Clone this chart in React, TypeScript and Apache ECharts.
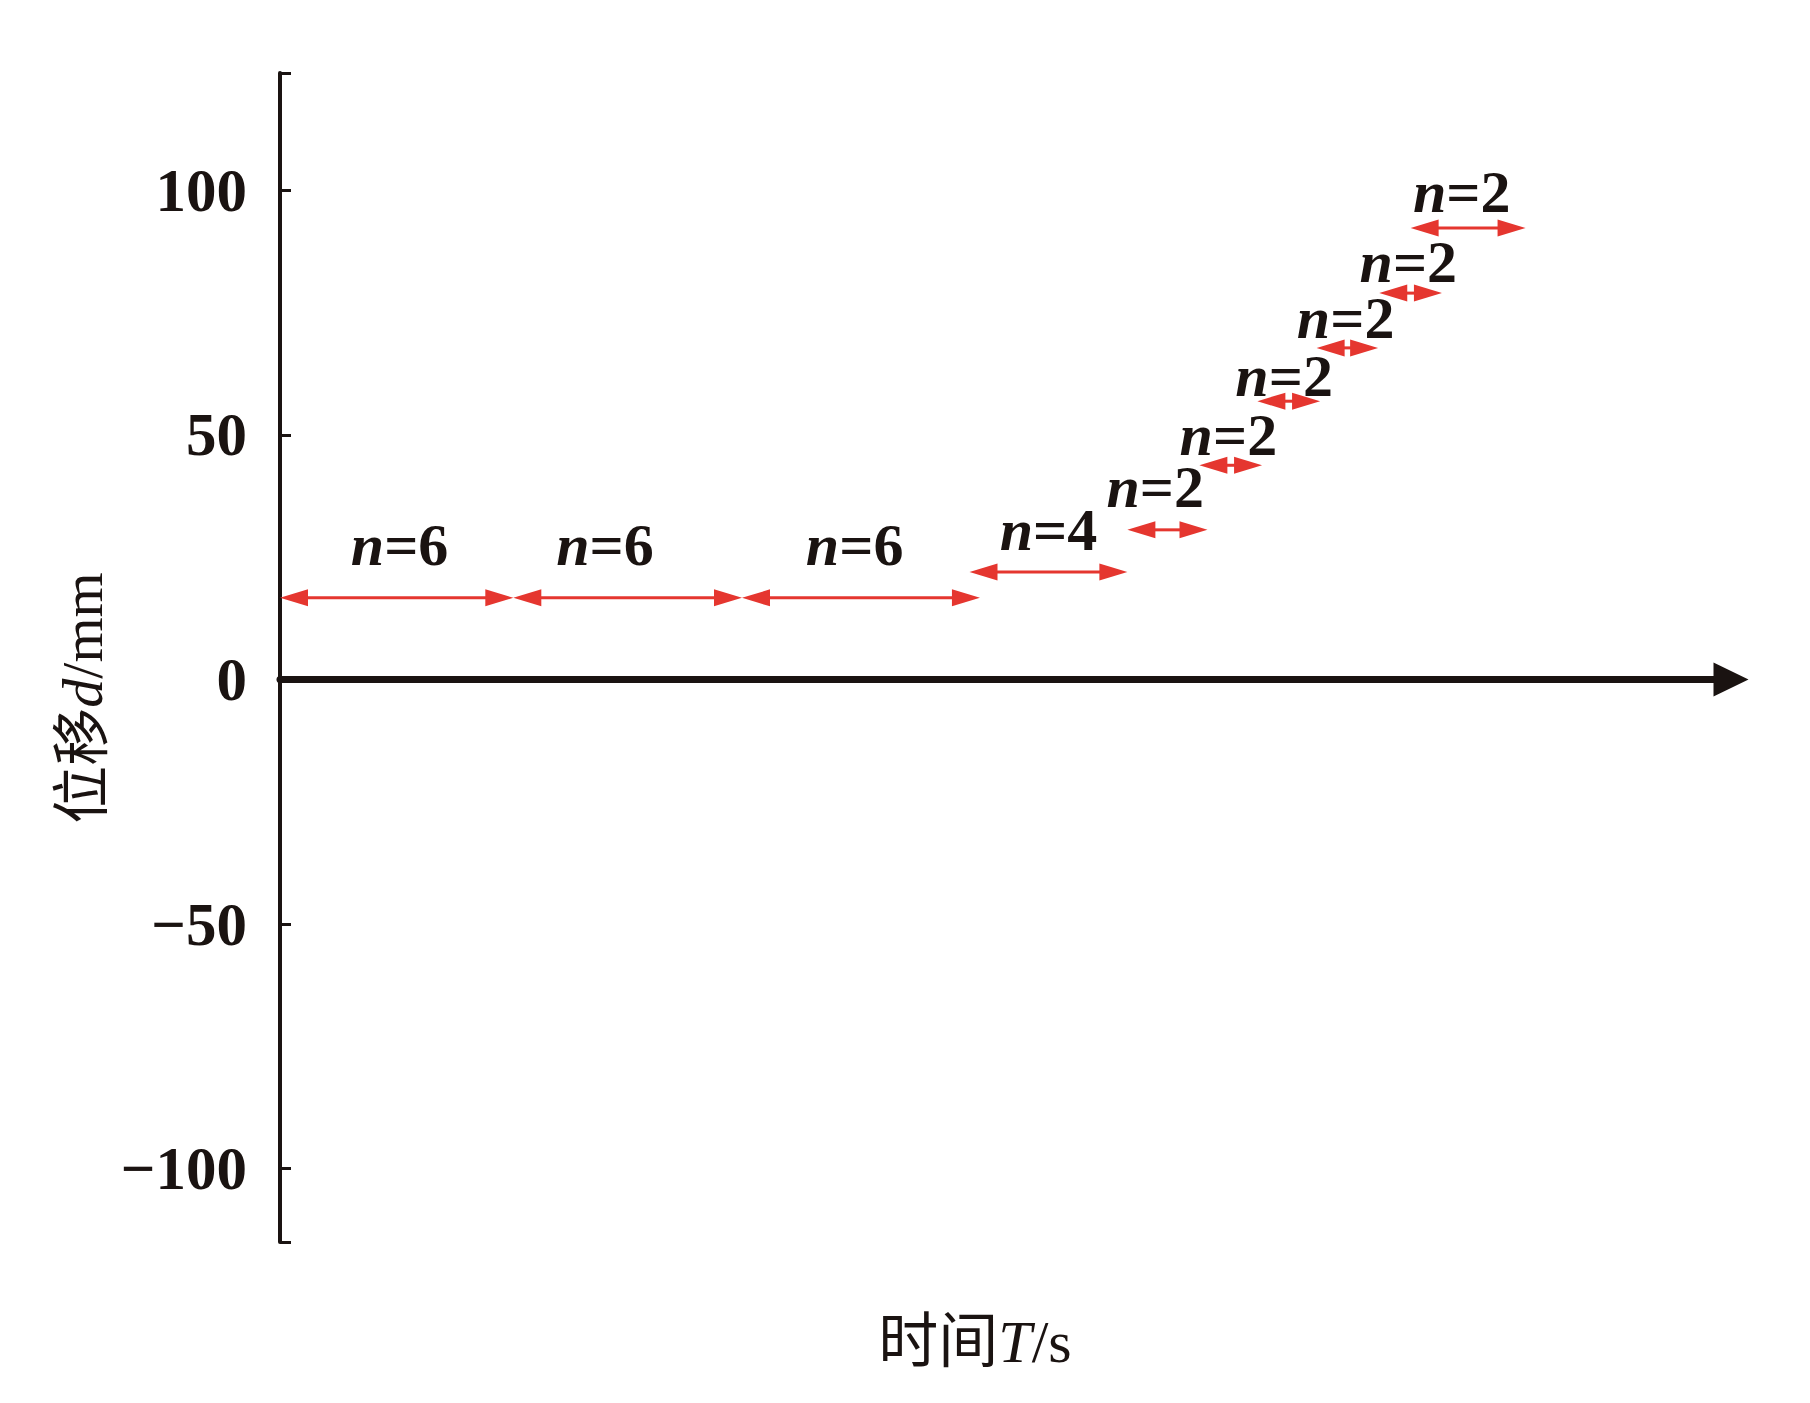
import React, { useEffect, useRef } from "react";
import * as echarts from "echarts";

// Cycle segments: start time, end time, displacement level, cycle count n
const segStart = [0, 20.1, 39.8, 59.4, 73.0, 79.2, 84.2, 89.3, 94.7, 97.4];
const segEnd = [20.1, 39.8, 60.3, 73.0, 79.9, 84.6, 89.6, 94.6, 100.1, 107.3];
const segLevel = [16.7, 16.7, 16.7, 22.0, 30.6, 43.8, 56.9, 67.8, 79.0, 92.3];
const segCycles = [6, 6, 6, 4, 2, 2, 2, 2, 2, 2];
// label anchor (time, displacement) for the "n=…" annotations
const labelT = [10.3, 28.0, 49.5, 66.2, 75.4, 81.7, 86.5, 91.8, 97.2, 101.8];
const labelD = [27.5, 27.5, 27.5, 30.6, 39.4, 50.0, 62.0, 73.9, 85.3, 99.6];

const yTickLabels = [-100, -50, 0, 50, 100];
const yMin = -115;
const yMax = 124;
const xMin = 0;
const xMax = 125;

const BLACK = "#1a1311";
const RED = "#E5362F";
const SERIF = "'Liberation Serif', 'Times New Roman', 'Noto Sans CJK SC', serif";

export default function App() {
  const ref = useRef<HTMLDivElement>(null);
  useEffect(() => {
    if (!ref.current) return;
    const chart = echarts.init(ref.current, undefined, { renderer: "svg" });
    const segData = segStart.map((s, i) => [s, segEnd[i], segLevel[i]]);
    const labelData = labelT.map((t, i) => [t, labelD[i], segCycles[i]]);
    const option: any = {
      animation: false,
      backgroundColor: "#ffffff",
      grid: { left: 280, right: 79, top: 73, bottom: 161, containLabel: false },
      xAxis: {
        type: "value",
        min: xMin,
        max: xMax,
        axisLine: {
          show: true,
          onZero: true,
          symbol: ["none", "triangle"],
          symbolSize: [34, 35],
          lineStyle: { color: BLACK, width: 7 },
        },
        axisTick: { show: false },
        axisLabel: { show: false },
        splitLine: { show: false },
      },
      yAxis: {
        type: "value",
        min: yMin,
        max: yMax,
        axisLine: { show: true, onZero: false, lineStyle: { color: BLACK, width: 4 } },
        axisTick: {
          show: true,
          inside: true,
          length: 11,
          customValues: [yMin, ...yTickLabels, yMax],
          lineStyle: { color: BLACK, width: 3 },
        },
        axisLabel: {
          show: true,
          customValues: yTickLabels,
          margin: 33,
          fontSize: 61,
          fontWeight: "bold",
          fontFamily: SERIF,
          color: BLACK,
          formatter: (v: number) => String(v).replace("-", "\u2212"),
        },
        splitLine: { show: false },
      },
      series: [
        {
          type: "custom",
          clip: false,
          data: segData,
          encode: { x: [0, 1], y: 2 },
          renderItem: (params: any, api: any) => {
            const lvl = api.value(2);
            const a = api.coord([api.value(0), lvl]);
            const b = api.coord([api.value(1), lvl]);
            const L = 28;
            const H = 8.5;
            return {
              type: "group",
              children: [
                {
                  type: "line",
                  shape: { x1: a[0] + L - 3, y1: a[1], x2: b[0] - L + 3, y2: b[1] },
                  style: { stroke: RED, lineWidth: 3 },
                },
                {
                  type: "polygon",
                  shape: { points: [[a[0], a[1]], [a[0] + L, a[1] - H], [a[0] + L, a[1] + H]] },
                  style: { fill: RED },
                },
                {
                  type: "polygon",
                  shape: { points: [[b[0], b[1]], [b[0] - L, b[1] - H], [b[0] - L, b[1] + H]] },
                  style: { fill: RED },
                },
              ],
            };
          },
        },
        {
          type: "scatter",
          data: labelData,
          symbolSize: 0,
          itemStyle: { color: "transparent", opacity: 1 },
          label: {
            show: true,
            position: "inside",
            formatter: (p: any) => `{i|n}{b|=${p.value[2]}}`,
            rich: {
              i: { fontSize: 60, fontStyle: "italic", fontWeight: "bold", fontFamily: SERIF, color: BLACK },
              b: { fontSize: 60, fontWeight: "bold", fontFamily: SERIF, color: BLACK },
            },
          },
        },
      ],
      graphic: [
        {
          type: "text",
          x: 82,
          y: 698,
          rotation: Math.PI / 2,
          style: {
            text: "位移{i|d}/mm",
            fontSize: 58,
            fontFamily: SERIF,
            fill: BLACK,
            align: "center",
            verticalAlign: "middle",
            rich: {
              i: { fontSize: 58, fontStyle: "italic", fontFamily: SERIF, fill: BLACK },
            },
          },
        },
        {
          type: "text",
          x: 975,
          y: 1342,
          style: {
            text: "时间{i|T}/s",
            fontSize: 60,
            fontFamily: SERIF,
            fill: BLACK,
            align: "center",
            verticalAlign: "middle",
            rich: {
              i: { fontSize: 60, fontStyle: "italic", fontFamily: SERIF, fill: BLACK },
            },
          },
        },
      ],
    };
    chart.setOption(option);
    return () => chart.dispose();
  }, []);
  return (
    <div
      ref={ref}
      style={{ position: "fixed", left: 0, top: 0, width: 1810, height: 1403, background: "#fff" }}
    />
  );
}
